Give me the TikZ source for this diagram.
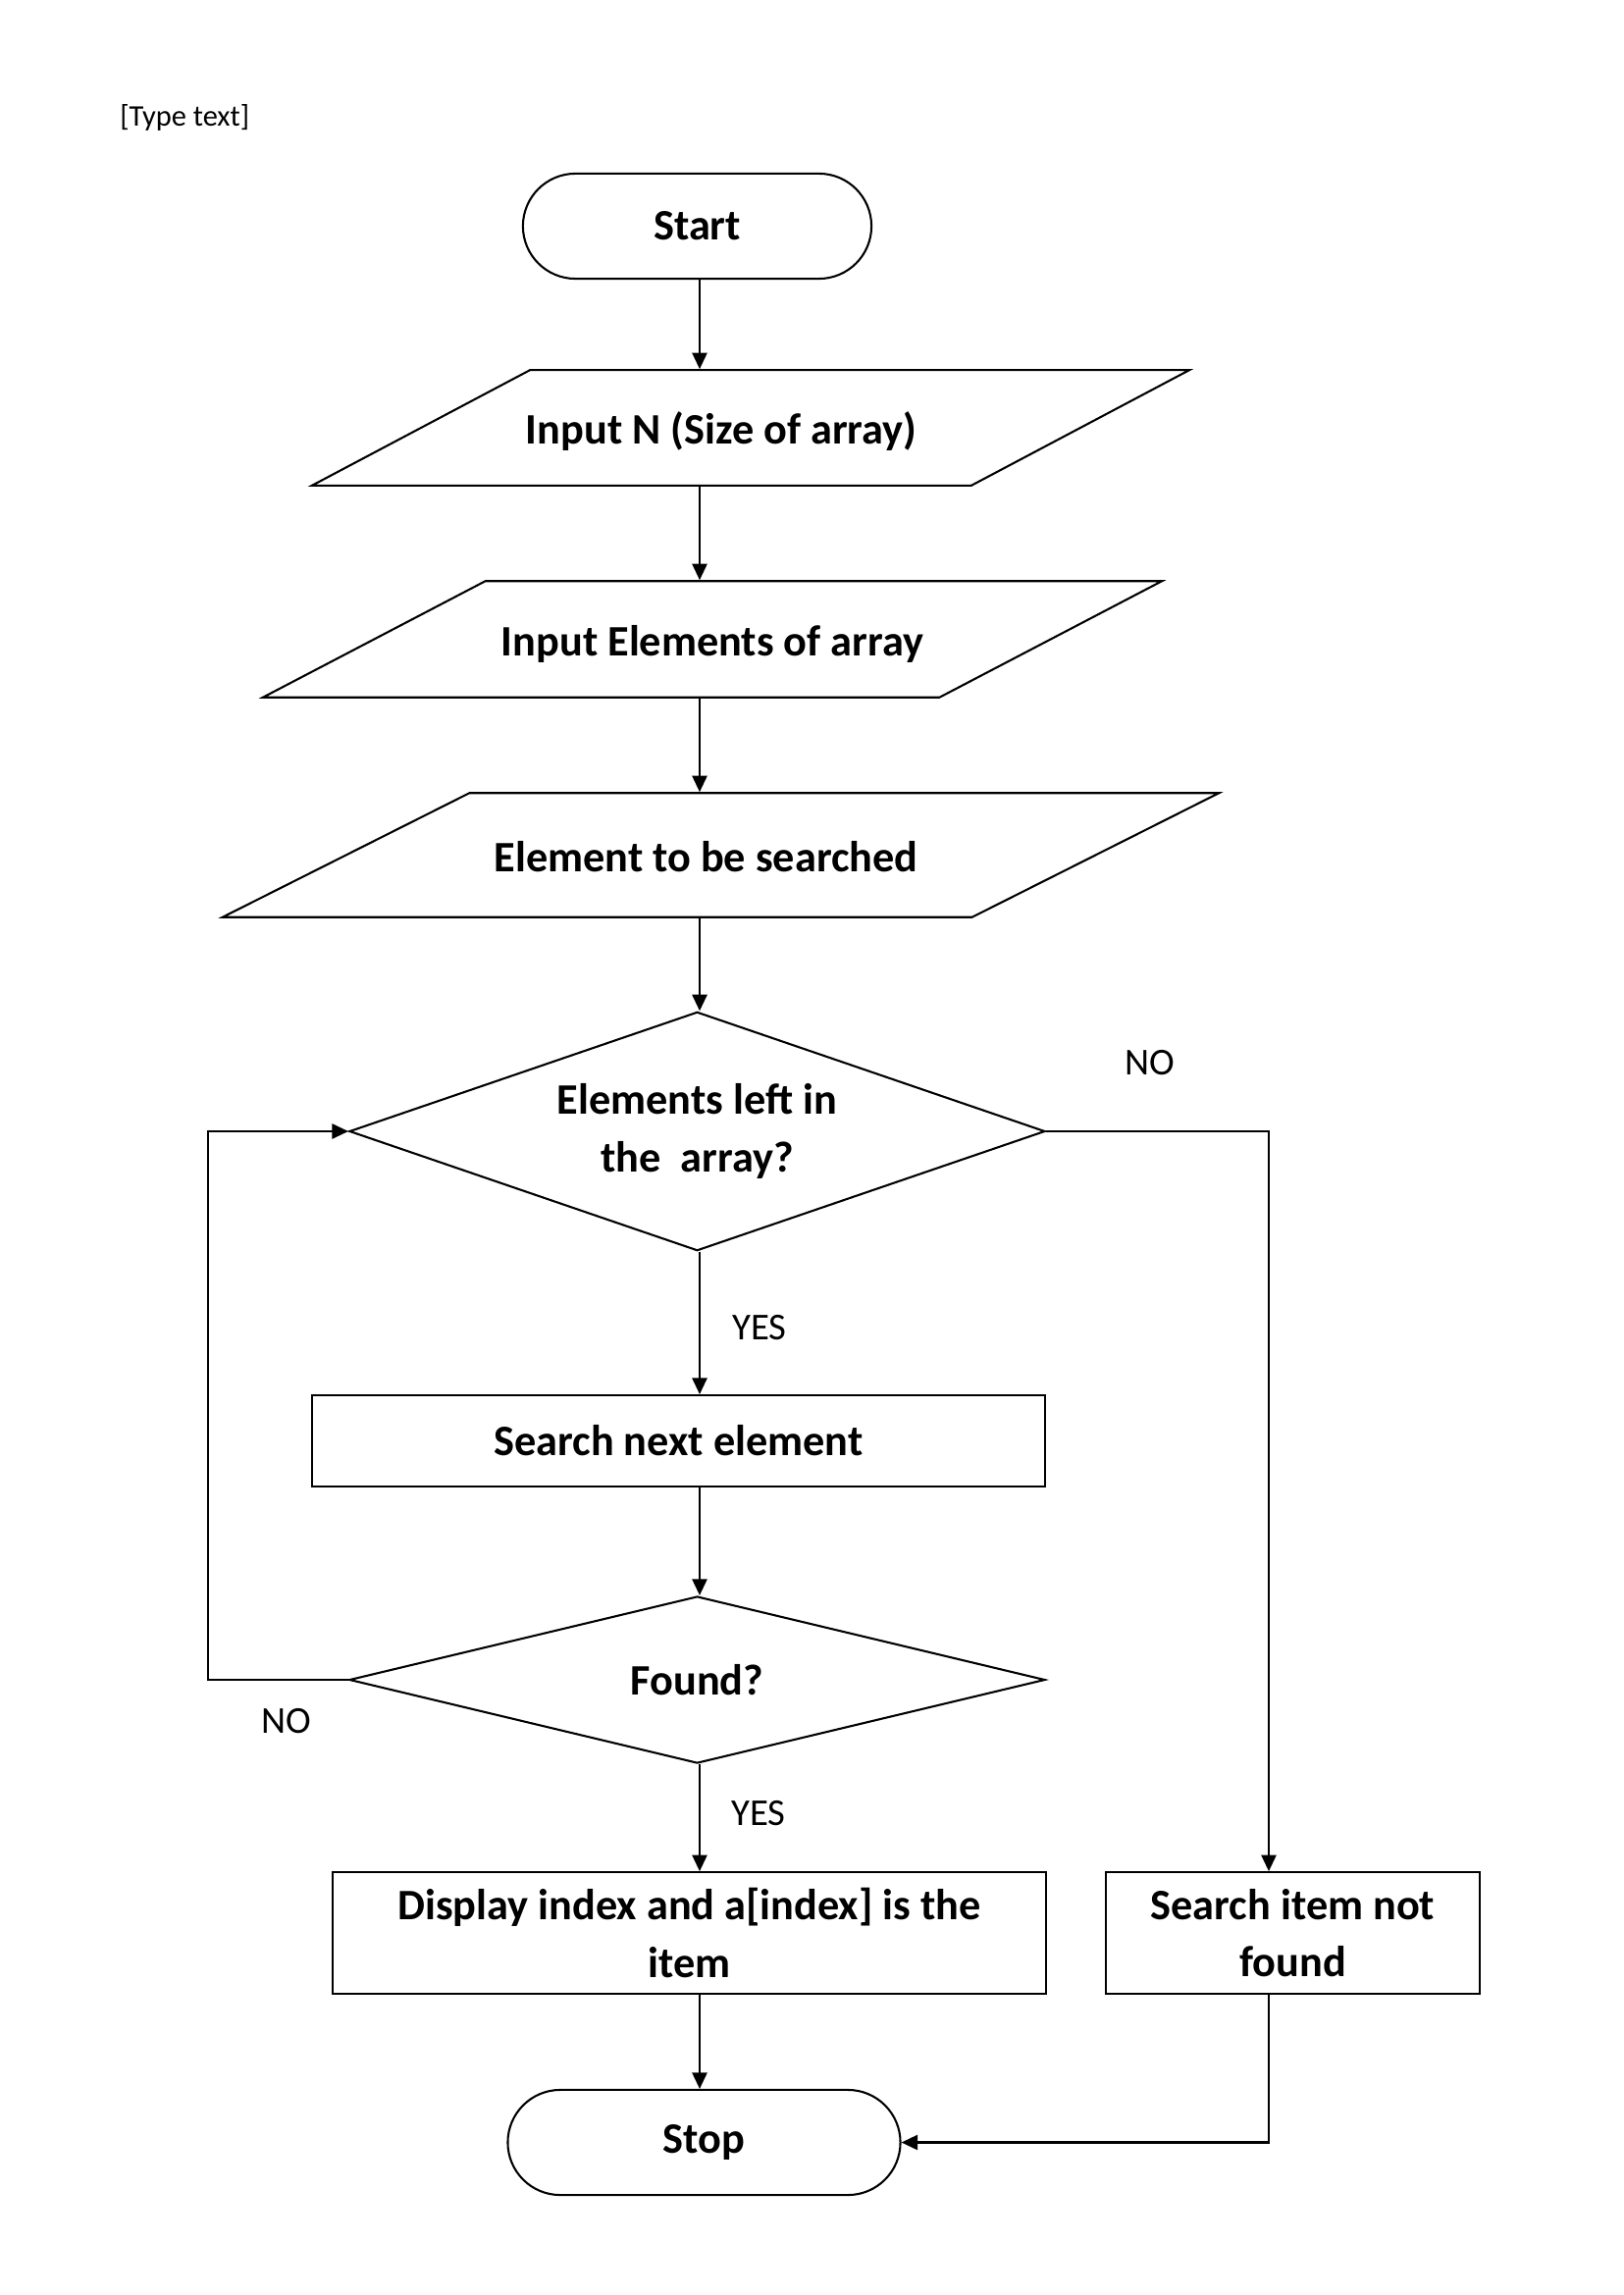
\documentclass[tikz,border=0pt]{standalone}
\usepackage{fontspec}
\setmainfont{Carlito}
\usetikzlibrary{shapes.geometric,shapes.misc,arrows.meta}

\begin{document}
\begin{tikzpicture}[x=0.012696cm, y=-0.012696cm, line width=0.75pt,
  >={Triangle[length=6pt,width=5.5pt]},
  box/.style={draw, rectangle, inner sep=2pt, align=center,
    font=\bfseries\fontsize{16}{21}\selectfont},
  term/.style={box, rounded rectangle},
  io/.style={box, trapezium, trapezium stretches body, text height=13pt, text depth=1pt},
  cond/.style={box, diamond, inner sep=0pt},
  lbl/.style={font=\fontsize{14}{17}\selectfont}]
\useasboundingbox (0,0) rectangle (1654,2339);
\node[anchor=west, font=\fontsize{11}{13}\selectfont] (hdr) at (112,120) {[Type text]};

% boxes
\node[term, minimum width=4.65cm, minimum height=1.36cm] (start) at (710.5,230.5) {Start};
\node[io, trapezium left angle=27.9, trapezium right angle=152.1, inner ysep=14.24pt,
  minimum width=11.35cm] (inN) at (765,436) {\hspace*{-0.76cm}Input N (Size of array)};
\node[io, trapezium left angle=27.6, trapezium right angle=152.4, inner ysep=14.4pt,
  minimum width=11.63cm] (inE) at (726,651.5) {Input Elements of array};
\node[io, trapezium left angle=26.7, trapezium right angle=153.3, inner ysep=15.85pt,
  minimum width=12.89cm] (key) at (734.5,871.5) {\hspace*{-0.38cm}Element to be searched};
\node[cond, aspect=2.92, minimum width=9cm, minimum height=3.09cm] (left) at (710.5,1153) {Elements left in\\the~ array?};
\node[box, minimum width=9.48cm, minimum height=1.18cm] (next) at (691.5,1468.5) {Search next element};
\node[cond, aspect=4.17, minimum width=9cm, minimum height=2.16cm] (found) at (710.5,1712) {Found?};
\node[box, minimum width=9.23cm, minimum height=1.57cm] (disp) at (702.5,1970) {Display index and a[index] is the\\item};
\node[box, minimum width=4.84cm, minimum height=1.57cm] (nf) at (1317.5,1970) {Search item not\\found};
\node[term, minimum width=5.22cm, minimum height=1.36cm] (stop) at (717.5,2183.5) {Stop};

% connectors
\coordinate (col) at (713,0);
\coordinate (back) at (212,1153);
\coordinate (nocol) at (1293,0);
\draw[->] (col |- start.south) -- (col |- inN.north);
\draw[->] (col |- inN.south) -- (col |- inE.north);
\draw[->] (col |- inE.south) -- (col |- key.north);
\draw[->] (col |- key.south) -- (col |- left.north);
\draw[->] (col |- left.south) -- (col |- next.north);
\draw[->] (col |- next.south) -- (col |- found.north);
\draw[->] (col |- found.south) -- (col |- disp.north);
\draw[->] (col |- disp.south) -- (col |- stop.north);
\draw[->] (found.west) -| (back) -- (left.west);
\draw[->] (left.east) -| (nocol |- nf.north);
\draw[->] (nocol |- nf.south) |- (stop.east);

\node[lbl] (no1) at (1172,1083) {NO};
\node[lbl] (yes1) at (774,1353) {YES};
\node[lbl] (no2) at (292,1754) {NO};
\node[lbl] (yes2) at (773,1848) {YES};
\end{tikzpicture}
\end{document}
